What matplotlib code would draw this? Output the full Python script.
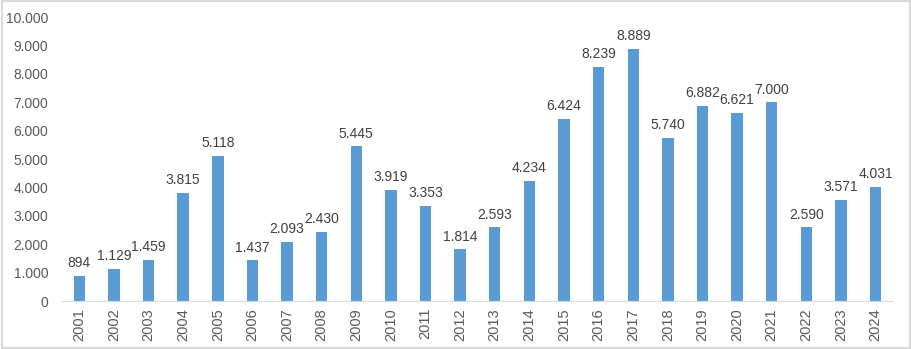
import matplotlib.pyplot as plt
from matplotlib.patches import Rectangle

years = [str(y) for y in range(2001, 2025)]
values = [894, 1129, 1459, 3815, 5118, 1437, 2093, 2430, 5445, 3919, 3353, 1814,
          2593, 4234, 6424, 8239, 8889, 5740, 6882, 6621, 7000, 2590, 3571, 4031]

plt.rcParams['font.family'] = ['Liberation Sans', 'DejaVu Sans']
text_color = '#595959'


def fmt(v):
    return f"{v:,}".replace(",", ".")


fig = plt.figure(figsize=(9.12, 3.49), dpi=100)
ax = fig.add_axes([0.068, 0.1375, 0.911, 0.8137])

x = range(len(years))
ax.bar(x, values, width=0.33, color='#5B9BD5')

for i, v in enumerate(values):
    ax.text(i, v + 200, fmt(v), ha='center', va='bottom', fontsize=10, color='#404040')

ax.set_xlim(-0.5, len(years) - 0.5)
ax.set_ylim(0, 10000)
ax.set_yticks(range(0, 10001, 1000))
ax.set_yticklabels([fmt(t) for t in range(0, 10001, 1000)], fontsize=10, color=text_color)
ax.set_xticks(list(x))
ax.set_xticklabels(years, rotation=90, fontsize=10.5, color=text_color)
ax.tick_params(length=0, pad=10)
ax.tick_params(axis='x', pad=5)

for s in ['top', 'right', 'left']:
    ax.spines[s].set_visible(False)
ax.spines['bottom'].set_color('#d9d9d9')

fig.patches.append(Rectangle((0.002, 0.004), 0.996, 0.992, transform=fig.transFigure,
                             fill=False, edgecolor='#d9d9d9', linewidth=1.5))

fig.savefig('out.png', dpi=100)
